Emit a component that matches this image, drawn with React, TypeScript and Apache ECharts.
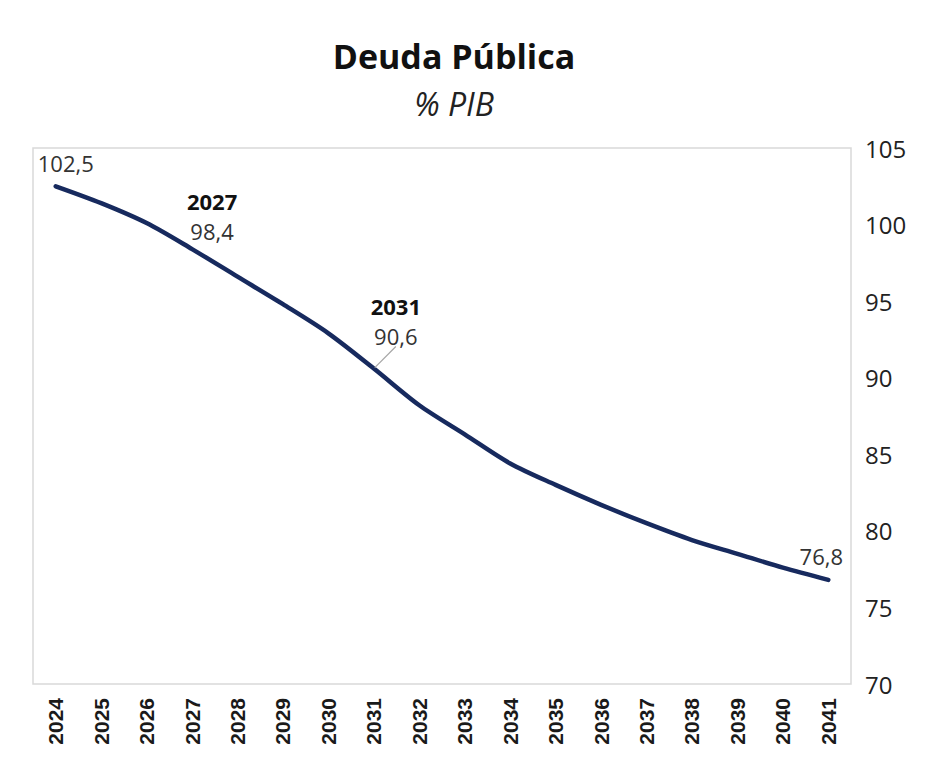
import React, { useEffect, useRef } from "react";
import * as echarts from "echarts";

const years = ["2024","2025","2026","2027","2028","2029","2030","2031","2032","2033","2034","2035","2036","2037","2038","2039","2040","2041"];
const debt = [102.5, 101.4, 100.1, 98.4, 96.6, 94.8, 92.9, 90.6, 88.2, 86.3, 84.4, 83.0, 81.7, 80.5, 79.4, 78.5, 77.6, 76.8];
const yTicks = { min: 70, max: 105, interval: 5 };
const titleText = "Deuda Pública";
const subtitleText = "% PIB";
// labelled points: index -> show year above value
const labelled: Record<number, boolean> = { 0: false, 3: true, 7: true, 17: false };

const fmt = (v: number) => v.toFixed(1).replace(".", ",");

export default function App() {
  const ref = useRef<HTMLDivElement>(null);
  useEffect(() => {
    if (!ref.current) return;
    const chart = echarts.init(ref.current, null, { renderer: "svg" });
    const font = "'Open Sans', 'Noto Sans', sans-serif";
    const data = debt.map((v, i) => {
      if (!(i in labelled)) return { value: v };
      const showYear = labelled[i];
      return {
        value: v,
        label: {
          show: true,
          formatter: showYear ? `{b|${years[i]}}\n{v|${fmt(v)}}` : `{v|${fmt(v)}}`,
        },
        labelLine: i === 7 ? { show: true, length: 8, lineStyle: { color: "#a6a6a6", width: 1.2 } } : undefined,
      };
    });
    const shifts: Record<number, [number, number]> = {
      0: [10, -2],
      3: [20, 3],
      7: [22, -12],
      17: [-7, -3],
    };
    chart.setOption({
      animation: false,
      backgroundColor: "#ffffff",
      title: [
        {
          text: titleText,
          left: 441,
          top: 26,
          textAlign: "center",
          textStyle: { fontFamily: font, fontWeight: "bold", fontSize: 34, color: "#111" },
        },
        {
          text: subtitleText,
          left: 441,
          top: 74,
          textAlign: "center",
          textStyle: { fontFamily: font, fontStyle: "italic", fontWeight: "normal", fontSize: 32, color: "#222" },
        },
      ],
      grid: {
        left: 25,
        right: 81,
        top: 140,
        bottom: 92,
        show: true,
        borderColor: "#d9d9d9",
        borderWidth: 1.5,
        containLabel: false,
      },
      xAxis: {
        type: "category",
        data: years,
        boundaryGap: true,
        axisLine: { show: false },
        axisTick: { show: false },
        axisLabel: {
          rotate: 90,
          margin: 14,
          fontFamily: "'Liberation Sans', Arial, sans-serif",
          fontWeight: "bold",
          fontSize: 21,
          color: "#1a1a1a",
          interval: 0,
        },
        splitLine: { show: false },
      },
      yAxis: {
        type: "value",
        position: "right",
        min: yTicks.min,
        max: yTicks.max,
        interval: yTicks.interval,
        axisLine: { show: false },
        axisTick: { show: false },
        splitLine: { show: false },
        axisLabel: { margin: 14, fontFamily: font, fontSize: 24, color: "#222" },
      },
      series: [
        {
          type: "line",
          data,
          smooth: 0.3,
          symbol: "circle",
          symbolSize: 2,
          showSymbol: true,
          itemStyle: { color: "#172a5e" },
          lineStyle: { color: "#172a5e", width: 4.5, cap: "round" },
          label: {
            show: false,
            position: "top",
            distance: 5,
            fontFamily: font,
            color: "#222",
            rich: {
              b: { fontFamily: font, fontWeight: "bold", fontSize: 22, color: "#111", lineHeight: 30, align: "center" },
              v: { fontFamily: font, fontSize: 22, color: "#333", lineHeight: 30, align: "center" },
            },
          },
          labelLayout: (p: any) => {
            const s = shifts[p.dataIndex];
            return s ? { dx: s[0], dy: s[1] } : {};
          },
        },
      ],
    });
    return () => chart.dispose();
  }, []);
  return <div ref={ref} style={{ width: 924, height: 768 }} />;
}
